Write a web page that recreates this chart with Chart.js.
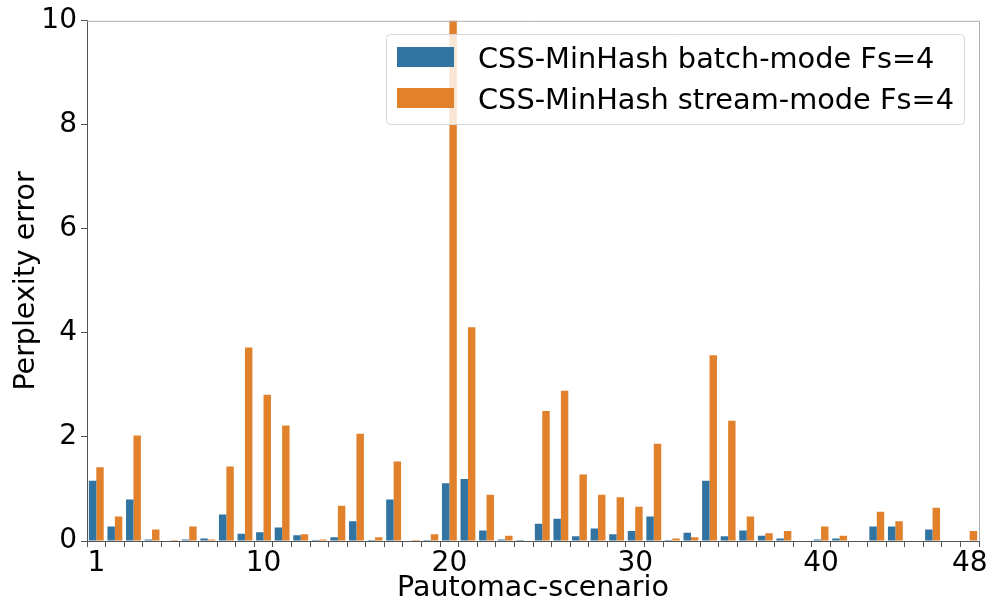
<!DOCTYPE html>
<html>
<head>
<meta charset="utf-8">
<script src="https://cdn.jsdelivr.net/npm/chart.js@4.4.0/dist/chart.umd.min.js"></script>
<style>
  html, body { margin: 0; padding: 0; background: #ffffff; }
  #wrap { width: 989px; height: 603px; position: relative; }
  canvas { display: block; }
</style>
</head>
<body>
<div id="wrap"><canvas id="c" width="989" height="603"></canvas></div>
<script>
// ---- data ----
const scenarios = Array.from({length: 48}, (_, i) => String(i + 1));
const shownTickLabels = ['1', '10', '20', '30', '40', '48'];
const seriesNames = ['CSS-MinHash batch-mode Fs=4', 'CSS-MinHash stream-mode Fs=4'];
const batchMode = [
  1.16, 0.28, 0.80, 0.03, 0.00, 0.03, 0.05, 0.51, 0.14, 0.17,
  0.26, 0.11, 0.02, 0.07, 0.38, 0.02, 0.80, 0.00, 0.02, 1.11,
  1.19, 0.20, 0.03, 0.02, 0.33, 0.43, 0.09, 0.24, 0.13, 0.19,
  0.47, 0.02, 0.16, 1.16, 0.09, 0.20, 0.10, 0.05, 0.00, 0.03,
  0.05, 0.00, 0.28, 0.28, 0.00, 0.22, 0.00, 0.00
];
const streamMode = [
  1.42, 0.47, 2.03, 0.22, 0.02, 0.28, 0.03, 1.43, 3.72, 2.81,
  2.22, 0.13, 0.03, 0.68, 2.06, 0.07, 1.53, 0.02, 0.13, 11.0,
  4.11, 0.89, 0.10, 0.00, 2.50, 2.89, 1.28, 0.89, 0.84, 0.66,
  1.87, 0.05, 0.07, 3.57, 2.31, 0.47, 0.15, 0.19, 0.00, 0.28,
  0.10, 0.00, 0.56, 0.38, 0.00, 0.64, 0.00, 0.19
];
const yTickStep = 2;
const yMin = 0, yMax = 10;

// ---- style ----
const FONT = "'DejaVu Sans', 'Liberation Sans', sans-serif";
const colors = ['#3274a1', '#e1812c'];

const framePlugin = {
  id: 'frame',
  afterDatasetsDraw(chart) {
    const {ctx, chartArea: a} = chart;
    ctx.save();
    ctx.strokeStyle = '#b0b0b0';
    ctx.lineWidth = 1;
    ctx.beginPath();
    ctx.moveTo(a.left, a.top + 0.5);
    ctx.lineTo(a.right + 0.5, a.top + 0.5);
    ctx.lineTo(a.right + 0.5, a.bottom);
    ctx.stroke();
    ctx.restore();
  }
};

const legendPlugin = {
  id: 'innerLegend',
  afterDraw(chart) {
    const ctx = chart.ctx;
    const x = 386.5, y = 34.5, w = 578, h = 90, r = 4;
    ctx.save();
    ctx.beginPath();
    ctx.moveTo(x + r, y);
    ctx.lineTo(x + w - r, y);
    ctx.quadraticCurveTo(x + w, y, x + w, y + r);
    ctx.lineTo(x + w, y + h - r);
    ctx.quadraticCurveTo(x + w, y + h, x + w - r, y + h);
    ctx.lineTo(x + r, y + h);
    ctx.quadraticCurveTo(x, y + h, x, y + h - r);
    ctx.lineTo(x, y + r);
    ctx.quadraticCurveTo(x, y, x + r, y);
    ctx.closePath();
    ctx.fillStyle = 'rgba(255,255,255,0.8)';
    ctx.fill();
    ctx.strokeStyle = '#d6d6d6';
    ctx.lineWidth = 1;
    ctx.stroke();
    ctx.font = '28.8px ' + FONT;
    ctx.textBaseline = 'alphabetic';
    ctx.textAlign = 'left';
    chart.data.datasets.forEach((ds, i) => {
      const rowY = 47 + i * 41;
      ctx.fillStyle = ds.backgroundColor;
      ctx.fillRect(397, rowY, 57, 20);
      ctx.fillStyle = '#000000';
      ctx.fillText(ds.label, 478, rowY + 21);
    });
    ctx.restore();
  }
};

new Chart(document.getElementById('c'), {
  type: 'bar',
  data: {
    labels: scenarios,
    datasets: [
      { label: seriesNames[0], data: batchMode, backgroundColor: colors[0], borderWidth: 0 },
      { label: seriesNames[1], data: streamMode, backgroundColor: colors[1], borderWidth: 0 }
    ]
  },
  options: {
    responsive: false,
    animation: false,
    devicePixelRatio: 1,
    layout: { padding: { left: 0, top: 19, right: 10, bottom: 0 } },
    datasets: { bar: { categoryPercentage: 0.8, barPercentage: 1.0 } },
    plugins: { legend: { display: false }, tooltip: { enabled: false } },
    scales: {
      x: {
        offset: true,
        grid: { display: true, drawOnChartArea: false, drawTicks: true, tickLength: 6, color: '#555555' },
        border: { display: true, color: '#555555', width: 1 },
        ticks: {
          autoSkip: false, maxRotation: 0, minRotation: 0,
          color: '#000000', font: { family: FONT, size: 28 }, padding: 0,
          callback: function(v) { const l = this.getLabelForValue(v); return shownTickLabels.includes(l) ? l : ''; }
        },
        title: { display: true, text: 'Pautomac-scenario', color: '#000000', font: { family: FONT, size: 28.5 }, padding: { top: 0, bottom: -3 } },
        afterFit(s) { s.height = 62; }
      },
      y: {
        min: yMin, max: yMax,
        grid: { display: true, drawOnChartArea: false, drawTicks: true, tickLength: 6, color: '#555555' },
        border: { display: true, color: '#555555', width: 1 },
        ticks: { stepSize: yTickStep, color: '#000000', font: { family: FONT, size: 28 }, padding: 4 },
        title: { display: true, text: 'Perplexity error', color: '#000000', font: { family: FONT, size: 28.5 }, padding: { top: 9, bottom: 0 } },
        afterFit(s) { s.width = 87; }
      }
    }
  },
  plugins: [framePlugin, legendPlugin]
});
</script>
</body>
</html>
